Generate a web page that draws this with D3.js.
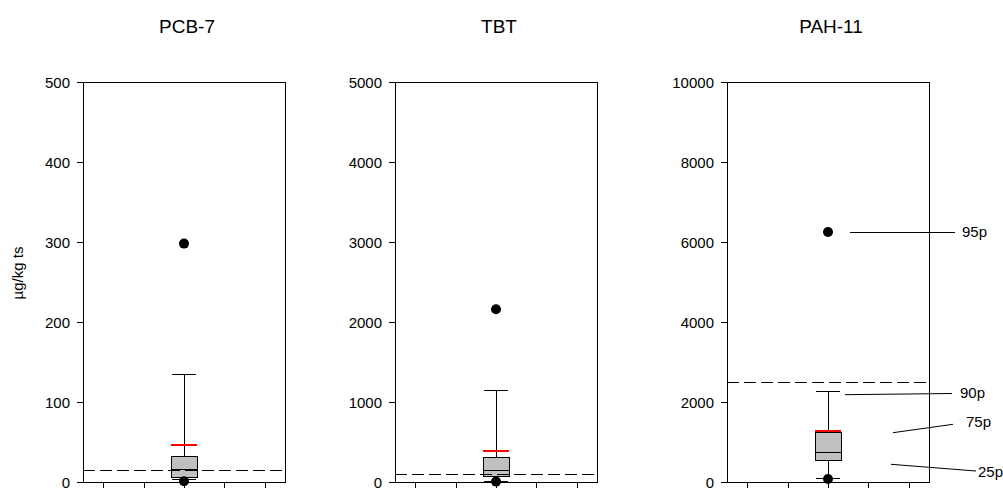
<!DOCTYPE html>
<html><head><meta charset="utf-8">
<script src="https://cdn.jsdelivr.net/npm/d3@7"></script>
<style>body{margin:0;background:#fff}svg{display:block;font-family:Arial,"Liberation Sans",sans-serif}
line,path,rect{shape-rendering:crispEdges}</style>
</head><body>
<svg id="c" width="1003" height="488"></svg>
<script>
const categories = ["PCB-7","TBT","PAH-11"];
const yMax   = [500, 5000, 10000];
const p95    = [298, 2160, 6250];
const p90    = [135, 1140, 2265];
const p75    = [32, 310, 1230];
const median = [16, 145, 750];
const p25    = [6, 66, 540];
const p10    = [3, 12, 85];
const p5     = [1, 5, 75];
const mean   = [46, 387, 1265];
const limit  = [15, 100, 2500];
const xTicks = [0.5, 1.5, 2.5, 3.5, 4.5];
const annLabels = ["95p","90p","75p","25p"];

const svg = d3.select("#c");
const panelLeft = [83, 395, 727];
const W = 202, plotTop = 82, plotBottom = 482;

svg.append("text").attr("transform","translate(23,273) rotate(-90)")
  .attr("text-anchor","middle").attr("font-size",15).text("µg/kg ts");

categories.forEach((cat,i)=>{
  const g = svg.append("g").attr("transform",`translate(${panelLeft[i]},0)`);
  const x = d3.scaleLinear().domain([0,5]).range([0,W]);
  const y = d3.scaleLinear().domain([0,yMax[i]]).range([plotBottom,plotTop]);
  const ya = g.append("g").call(d3.axisLeft(y).ticks(5).tickFormat(d3.format("d")).tickSize(6).tickPadding(7).tickSizeOuter(0));
  ya.selectAll("text").attr("font-size",15).attr("font-family","Arial,'Liberation Sans',sans-serif").attr("fill","#000").attr("dy","0.35em");
  ya.selectAll("line,path").attr("stroke","#000");
  const xa = g.append("g").attr("transform",`translate(0,${plotBottom})`)
    .call(d3.axisBottom(x).tickValues(xTicks).tickSize(6).tickSizeOuter(0).tickFormat(""));
  xa.selectAll("line,path").attr("stroke","#000");
  g.append("line").attr("x1",0).attr("x2",W).attr("y1",plotTop).attr("y2",plotTop).attr("stroke","#000");
  g.append("line").attr("x1",W).attr("x2",W).attr("y1",plotTop).attr("y2",plotBottom).attr("stroke","#000");

  g.append("text").attr("x",x(2.5)+3).attr("y",33).attr("text-anchor","middle")
    .attr("font-size",19).text(cat);

  const cx = x(2.5), bw = 26, cw = 24;
  g.append("line").attr("x1",cx).attr("x2",cx).attr("y1",y(p90[i])).attr("y2",y(p75[i])).attr("stroke","#000");
  g.append("line").attr("x1",cx).attr("x2",cx).attr("y1",y(p25[i])).attr("y2",y(p10[i])).attr("stroke","#000");
  [p90[i],p10[i]].forEach(v=>g.append("line").attr("x1",cx-cw/2).attr("x2",cx+cw/2)
     .attr("y1",y(v)).attr("y2",y(v)).attr("stroke","#000"));
  g.append("rect").attr("x",cx-bw/2).attr("width",bw).attr("y",y(p75[i]))
    .attr("height",y(p25[i])-y(p75[i])).attr("fill","#c0c0c0").attr("stroke","#000");
  g.append("line").attr("x1",cx-bw/2).attr("x2",cx+bw/2).attr("y1",y(median[i])).attr("y2",y(median[i])).attr("stroke","#000");
  g.append("line").attr("x1",0).attr("x2",W).attr("y1",y(limit[i])).attr("y2",y(limit[i]))
    .attr("stroke","#000").attr("stroke-dasharray","12,5");
  g.append("line").attr("x1",cx-bw/2).attr("x2",cx+bw/2).attr("y1",y(mean[i])).attr("y2",y(mean[i]))
    .attr("stroke","#ff0000").attr("stroke-width",2);
  [p95[i],p5[i]].forEach(v=>g.append("circle").attr("cx",cx).attr("cy",y(v)).attr("r",5).attr("fill","#000"));

  if(i===2){
    const ann = [
      {x1:123,y1:y(p95[i]),x2:228,y2:y(p95[i]),tx:235,ty:y(p95[i])},
      {x1:118,y1:394.7,x2:225,y2:393.5,tx:233,ty:393},
      {x1:166,y1:432.7,x2:226,y2:424.3,tx:239,ty:421.5},
      {x1:164,y1:464.3,x2:249,y2:471,tx:251,ty:471.5}
    ];
    ann.forEach((a,k)=>{
      g.append("line").attr("x1",a.x1).attr("y1",a.y1).attr("x2",a.x2).attr("y2",a.y2)
        .attr("stroke","#000").style("shape-rendering", k===0 ? "crispEdges" : "auto");
      g.append("text").attr("x",a.tx).attr("y",a.ty).attr("dy","0.35em").attr("font-size",15).text(annLabels[k]);
    });
  }
});
</script>
</body></html>
